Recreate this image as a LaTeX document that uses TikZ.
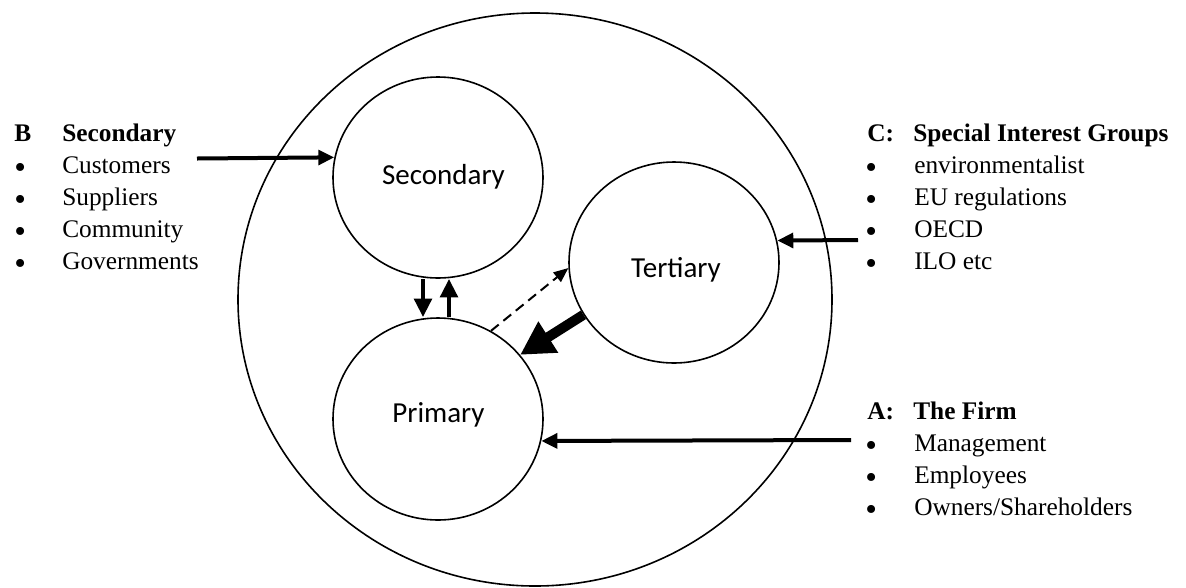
\documentclass[tikz,border=0pt]{standalone}
\usepackage{fontspec}
\setmainfont{Liberation Serif}
\newfontfamily\calib{Carlito}
\usetikzlibrary{shapes.geometric,arrows.meta}
\begin{document}
\begin{tikzpicture}[x=0.75pt,y=-0.75pt,
  circ/.style={ellipse, draw, line width=1.2pt, inner sep=0pt, minimum width=157.5pt, minimum height=150.75pt},
  lbl/.style={font=\calib\fontsize{21.75}{24}\selectfont, inner sep=0pt},
  txt/.style={font=\fontsize{19}{22}\selectfont, inner sep=0pt, anchor=base west},
  bul/.style={txt, font=\fontsize{25}{25}\selectfont, yshift=-4pt},
  hd/.style={txt, font=\bfseries\fontsize{19}{22}\selectfont},
  harrow/.style={line width=3pt, -{Triangle[length=12pt,width=11pt]}},
  varrow/.style={line width=3.5pt, -{Triangle[length=14pt,width=13pt]}},
  darrow/.style={line width=1.5pt, dash pattern=on 7.5pt off 4.5pt, -{Triangle[length=11pt,width=9pt]}},
  bigarrow/.style={line width=7.5pt, -{Triangle[length=25pt,width=26pt]}}]
\fill[white] (0,0) rectangle (1186,587);
\useasboundingbox (0,0) rectangle (1186,587);
% outer circle
\node[ellipse, draw, line width=1.2pt, inner sep=0pt, minimum width=445.5pt, minimum height=429.75pt] (firm) at (535,299.5) {};
% inner circles
\node[circ] (sec) at (438,177.5) {};
\node[circ, minimum height=151.5pt] (prim) at (438,419) {};
\node[circ] (ter) at (674,262.5) {};
\node[lbl] (secl) at (443.5,176.5) {Secondary};
\node[lbl] (terl) at (676,270) {Tertiary};
\node[lbl] (priml) at (438.5,415) {Primary};
% left list
\node[hd] (bh) at (14,141) {B};
\node[hd] (bh2) at (62,141) {Secondary};
\node[bul] (bb1) at (14,173) {\textbullet};
\node[bul] (bb2) at (14,205) {\textbullet};
\node[bul] (bb3) at (14,237) {\textbullet};
\node[bul] (bb4) at (14,269) {\textbullet};
\node[txt] (bt1) at (62,173) {Customers};
\node[txt] (bt2) at (62,205) {Suppliers};
\node[txt] (bt3) at (62,237) {Community};
\node[txt] (bt4) at (62,269) {Governments};
% right list C
\node[hd] (ch) at (867,141) {C:};
\node[hd] (ch2) at (913,141) {Special Interest Groups};
\node[bul] (cb1) at (865,173) {\textbullet};
\node[bul] (cb2) at (865,205) {\textbullet};
\node[bul] (cb3) at (865,237) {\textbullet};
\node[bul] (cb4) at (865,269) {\textbullet};
\node[txt] (ct1) at (914,173) {environmentalist};
\node[txt] (ct2) at (914,205) {EU regulations};
\node[txt] (ct3) at (914,237) {OECD};
\node[txt] (ct4) at (914,269) {ILO etc};
% right list A
\node[hd] (ah) at (867,419) {A:};
\node[hd] (ah2) at (913,419) {The Firm};
\node[bul] (ab1) at (865,451) {\textbullet};
\node[bul] (ab2) at (865,483) {\textbullet};
\node[bul] (ab3) at (865,515) {\textbullet};
\node[txt] (at1) at (914,451) {Management};
\node[txt] (at2) at (914,483) {Employees};
\node[txt] (at3) at (914,515) {Owners/Shareholders};
% arrow start points
\coordinate (bstart) at (197,158.5);
\coordinate (cstart) at (858,240);
\coordinate (astart) at (851,440);
% arrows
\draw[harrow] (bstart) -- (sec.169);
\draw[harrow] (cstart) -- (ter.12);
\draw[harrow] (astart) -- (prim.348.5);
\draw[varrow] ([xshift=-11.25pt]sec.south) -- ([xshift=-11.25pt]prim.north);
\draw[varrow] ([xshift=8.25pt]prim.north) -- ([xshift=8.25pt]sec.south);
\draw[darrow] (prim.59) -- (ter.183);
\draw[bigarrow] (ter.210) -- (prim.38.5);
\end{tikzpicture}
\end{document}
